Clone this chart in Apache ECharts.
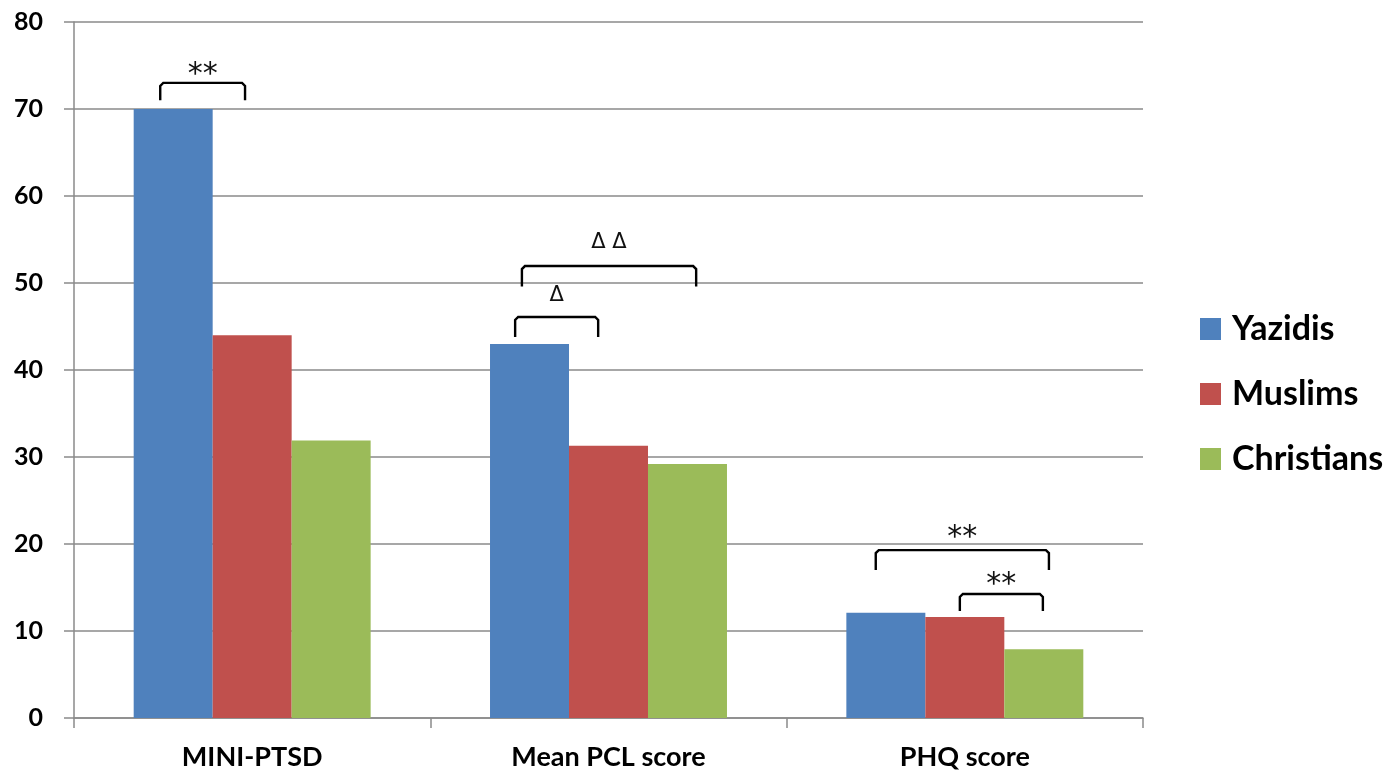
<!DOCTYPE html>
<html><head><meta charset="utf-8">
<script src="https://cdn.jsdelivr.net/npm/echarts@6/dist/echarts.min.js"></script>
<style>html,body{margin:0;padding:0;background:#fff}#c{width:1399px;height:776px}</style>
</head><body><div id="c"></div>
<script>
const categories = ['MINI-PTSD', 'Mean PCL score', 'PHQ score'];
const yazidis = [70, 43, 12.1];
const muslims = [44, 31.3, 11.6];
const christians = [31.9, 29.2, 7.9];
const yTicks = [0, 10, 20, 30, 40, 50, 60, 70, 80];
// brackets: [categoryIndex, startOffset, endOffset (fraction of category width), topValue, legValue, labelValue, label]
const brackets = [
  [0, -0.258, -0.020, 73.0, 71.0, 74.6, '**'],
  [1, -0.262, -0.029, 46.1, 43.8, 48.6, 'Δ'],
  [1, -0.243, 0.246, 51.95, 49.6, 54.7, 'Δ Δ'],
  [2, -0.250, 0.236, 19.3, 17.0, 21.3, '**'],
  [2, -0.014, 0.219, 14.25, 12.3, 16.0, '**']
];
const chart = echarts.init(document.getElementById('c'));
const font = 'Lato, "Open Sans", sans-serif';
chart.setOption({
  animation: false,
  grid: {left: 74, right: 256, top: 22, bottom: 58},
  legend: {
    orient: 'vertical', left: 1195, top: 307,
    itemWidth: 21, itemHeight: 22, itemGap: 31,
    icon: 'rect',
    data: ['Yazidis', 'Muslims', 'Christians'],
    textStyle: {fontSize: 34, fontWeight: 'bold', color: '#000', fontFamily: font, padding: [0, 0, 0, 6]}
  },
  xAxis: {
    type: 'category', data: categories,
    axisLine: {lineStyle: {color: '#8a8a8a', width: 1.5}},
    axisTick: {show: true, length: 10, lineStyle: {color: '#8a8a8a', width: 1.5}},
    axisLabel: {fontSize: 27, fontWeight: 'bold', color: '#000', fontFamily: font, margin: 26}
  },
  yAxis: {
    type: 'value', min: 0, max: 80, interval: 10,
    axisLine: {show: true, lineStyle: {color: '#8a8a8a', width: 1.5}},
    axisTick: {show: true, length: 10, lineStyle: {color: '#8a8a8a', width: 1.5}},
    splitLine: {lineStyle: {color: '#8a8a8a', width: 1.5}},
    axisLabel: {fontSize: 25, fontWeight: 'bold', color: '#000', fontFamily: font, margin: 31,
      formatter: v => yTicks.includes(v) ? String(v) : ''}
  },
  series: [
    {name: 'Yazidis', type: 'bar', data: yazidis, barGap: '0%', barCategoryGap: '33.5%', itemStyle: {color: '#4F81BD'}},
    {name: 'Muslims', type: 'bar', data: muslims, barGap: '0%', barCategoryGap: '33.5%', itemStyle: {color: '#C0504D'}},
    {name: 'Christians', type: 'bar', data: christians, barGap: '0%', barCategoryGap: '33.5%', itemStyle: {color: '#9BBB59'}},
    {
      type: 'custom', name: 'brackets', z: 10, clip: false,
      data: brackets,
      encode: {x: 0, y: 3},
      renderItem: function (params, api) {
        const cat = api.value(0);
        const c = api.coord([cat, 0])[0];
        const w = api.size([1, 0])[0];
        const x1 = c + api.value(1) * w;
        const x2 = c + api.value(2) * w;
        const yt = api.coord([cat, api.value(3)])[1];
        const yl = api.coord([cat, api.value(4)])[1];
        const ylab = api.coord([cat, api.value(5)])[1];
        const label = brackets[params.dataIndex][6];
        const isDelta = label.indexOf('Δ') >= 0;
        return {
          type: 'group',
          children: [
            {type: 'polyline', shape: {points: [[x1, yl], [x1, yt + 3], [x1 + 3, yt], [x2 - 3, yt], [x2, yt + 3], [x2, yl]]},
             style: {stroke: '#000', lineWidth: 2.4, fill: null}},
            {type: 'text', x: (x1 + x2) / 2, y: ylab + (isDelta ? 0 : 6),
             style: {text: label, fill: '#111', font: (isDelta ? '21px ' : '30px ') + '"DejaVu Sans", sans-serif',
               align: 'center', verticalAlign: 'middle'}}
          ]
        };
      }
    }
  ]
});
</script></body></html>
